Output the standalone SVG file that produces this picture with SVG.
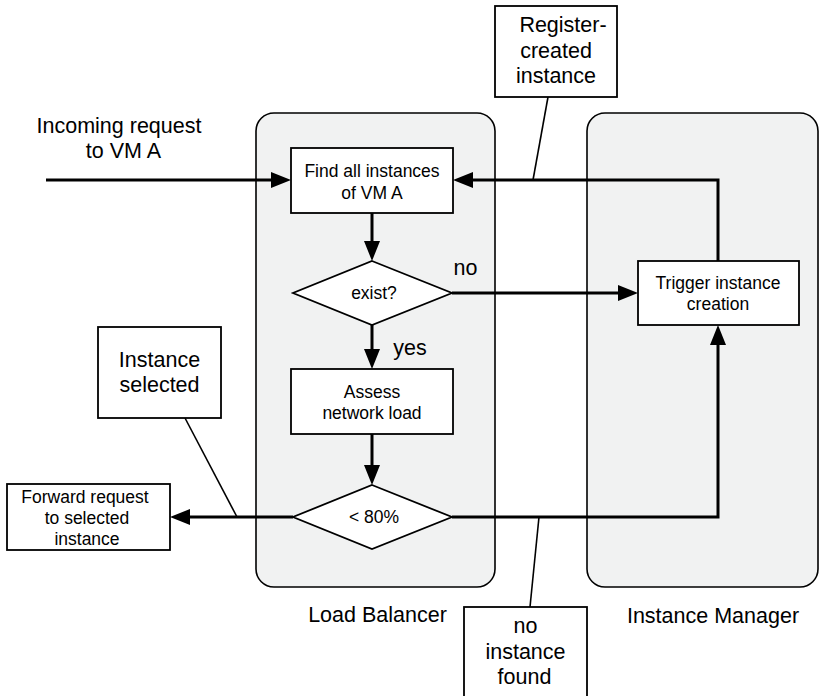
<svg xmlns="http://www.w3.org/2000/svg" width="820" height="696" viewBox="0 0 820 696">
  <style>
    text { font-family: "Liberation Sans", Arial, Helvetica, sans-serif; fill: #000; text-anchor: middle; }
    .sm { font-size: 17.5px; }
    .lg { font-size: 21.5px; }
    .lane { fill: #f1f2f2; stroke: #000; stroke-width: 1.6; }
    .box { fill: #fff; stroke: #000; stroke-width: 1.8; }
    .flow { fill: none; stroke: #000; stroke-width: 3; }
    .lead { fill: none; stroke: #000; stroke-width: 1.6; }
  </style>
  <defs>
    <marker id="arrow" viewBox="0 0 20 16" refX="12" refY="8" markerWidth="20" markerHeight="16" markerUnits="userSpaceOnUse" orient="auto">
      <path d="M0,0 L20,8 L0,16 Z" fill="#000"/>
    </marker>
  </defs>

  <!-- swimlanes -->
  <g id="lane-load-balancer">
    <rect class="lane" x="256" y="113" width="239" height="474" rx="18" ry="18"/>
    <text class="lg" x="377.5" y="622">Load Balancer</text>
  </g>
  <g id="lane-instance-manager">
    <rect class="lane" x="587" y="113" width="231" height="474" rx="18" ry="18"/>
    <text class="lg" x="713" y="623">Instance Manager</text>
  </g>

  <!-- connectors -->
  <g id="connectors">
    <path class="flow" d="M46,180 L283,180" marker-end="url(#arrow)"/>
    <path class="flow" d="M372,213 L372,253" marker-end="url(#arrow)"/>
    <path class="flow" d="M372,325 L372,361" marker-end="url(#arrow)"/>
    <path class="flow" d="M372,434 L372,477" marker-end="url(#arrow)"/>
    <path class="flow" d="M452,293 L630,293" marker-end="url(#arrow)"/>
    <path class="flow" d="M718,261 L718,180 L461,180" marker-end="url(#arrow)"/>
    <path class="flow" d="M452,517 L718,517 L718,333" marker-end="url(#arrow)"/>
    <path class="flow" d="M293,517 L178,517" marker-end="url(#arrow)"/>
    <!-- annotation leaders -->
    <path class="lead" d="M548,97 L533,180"/>
    <path class="lead" d="M185,418 L237,517"/>
    <path class="lead" d="M539,517 L530,607"/>
  </g>

  <!-- incoming request label -->
  <g id="incoming">
    <text class="lg" x="119" y="133">Incoming request</text>
    <text class="lg" x="123.5" y="158">to VM A</text>
  </g>

  <g id="find-instances">
    <rect class="box" x="291" y="148" width="162" height="65"/>
    <text class="sm" x="372" y="177">Find all instances</text>
    <text class="sm" x="372" y="199">of VM A</text>
  </g>

  <g id="exist">
    <polygon class="box" points="372,261 452,293 372,325 293,293"/>
    <text class="sm" x="374" y="299">exist?</text>
  </g>
  <text class="lg" x="465.5" y="275">no</text>
  <text class="lg" x="410" y="355">yes</text>

  <g id="assess-load">
    <rect class="box" x="291" y="369" width="162" height="65"/>
    <text class="sm" x="372" y="398">Assess</text>
    <text class="sm" x="372" y="419">network load</text>
  </g>

  <g id="load-check">
    <polygon class="box" points="372,485 452,517 372,549 293,517"/>
    <text class="sm" x="374" y="523">&lt; 80%</text>
  </g>

  <g id="trigger-creation">
    <rect class="box" x="638" y="261" width="161" height="64"/>
    <text class="sm" x="718" y="289">Trigger instance</text>
    <text class="sm" x="718" y="310">creation</text>
  </g>

  <g id="forward-request">
    <rect class="box" x="7" y="484" width="163" height="66"/>
    <text class="sm" x="85" y="503">Forward request</text>
    <text class="sm" x="87" y="524">to selected</text>
    <text class="sm" x="87" y="545">instance</text>
  </g>

  <g id="note-instance-selected">
    <rect class="box" x="98" y="327" width="123" height="91"/>
    <text class="lg" x="159.5" y="367">Instance</text>
    <text class="lg" x="159.5" y="392">selected</text>
  </g>

  <g id="note-register">
    <rect class="box" x="495" y="6" width="122" height="91"/>
    <text class="lg" x="563" y="32">Register-</text>
    <text class="lg" x="556" y="58">created</text>
    <text class="lg" x="556" y="83">instance</text>
  </g>

  <g id="note-no-instance">
    <rect class="box" x="464" y="607" width="123" height="100"/>
    <text class="lg" x="525.5" y="633">no</text>
    <text class="lg" x="525.5" y="659">instance</text>
    <text class="lg" x="524.5" y="684">found</text>
  </g>
</svg>
